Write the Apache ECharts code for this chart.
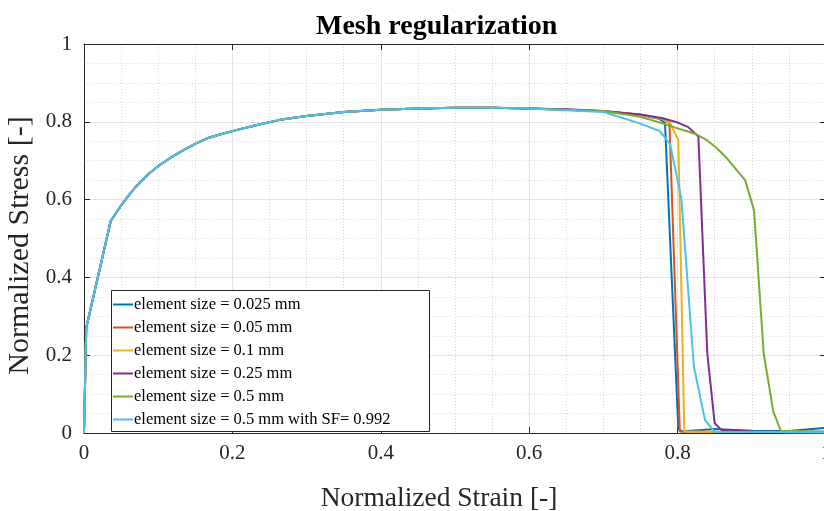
<!DOCTYPE html>
<html>
<head>
<meta charset="utf-8">
<script src="https://cdn.jsdelivr.net/npm/echarts@6/dist/echarts.min.js"></script>
<style>html,body{margin:0;padding:0;background:#fff;}#chart{width:824px;height:511px;}</style>
</head>
<body>
<div id="chart"></div>
<script>
// Shared hardening curve (all mesh sizes coincide here)
var commonStrain = [0, 0.003, 0.036, 0.050, 0.064, 0.073, 0.087, 0.102, 0.118, 0.134, 0.150, 0.165, 0.184, 0.200, 0.233, 0.264, 0.300, 0.350, 0.400, 0.450, 0.500, 0.550, 0.600];
var commonStress = [0, 0.270, 0.545, 0.585, 0.620, 0.640, 0.666, 0.689, 0.709, 0.727, 0.743, 0.757, 0.768, 0.776, 0.792, 0.805, 0.815, 0.825, 0.831, 0.834, 0.836, 0.836, 0.834];

// Softening / failure branches per element size
var strain0025 = [0.650, 0.700, 0.750, 0.775, 0.783, 0.801, 0.806, 0.850, 0.900, 0.950, 1.000];
var stress0025 = [0.831, 0.827, 0.818, 0.808, 0.797, 0.010, 0.004, 0.010, 0.006, 0.005, 0.013];

var strain005 = [0.650, 0.700, 0.750, 0.780, 0.789, 0.803, 0.850, 1.000];
var stress005 = [0.831, 0.827, 0.818, 0.807, 0.797, 0.004, 0.003, 0.002];

var strain01 = [0.650, 0.700, 0.750, 0.780, 0.790, 0.801, 0.809, 0.850, 1.000];
var stress01 = [0.831, 0.827, 0.818, 0.807, 0.797, 0.753, 0.004, 0.003, 0.002];

var strain025 = [0.650, 0.700, 0.750, 0.780, 0.800, 0.814, 0.828, 0.840, 0.850, 0.859, 0.900, 1.000];
var stress025 = [0.832, 0.828, 0.819, 0.809, 0.798, 0.787, 0.762, 0.205, 0.025, 0.008, 0.004, 0.003];

var strain05 = [0.650, 0.700, 0.750, 0.783, 0.800, 0.814, 0.825, 0.840, 0.853, 0.868, 0.879, 0.891, 0.903, 0.916, 0.929, 0.939, 1.000];
var stress05 = [0.831, 0.828, 0.813, 0.794, 0.783, 0.775, 0.768, 0.752, 0.732, 0.703, 0.677, 0.650, 0.573, 0.205, 0.055, 0.006, 0.003];

var strain05SF = [0.650, 0.700, 0.749, 0.776, 0.790, 0.805, 0.822, 0.837, 0.850, 1.000];
var stress05SF = [0.830, 0.825, 0.796, 0.776, 0.742, 0.603, 0.170, 0.033, 0.003, 0.002];

var seriesNames = ['element size = 0.025 mm', 'element size = 0.05 mm', 'element size = 0.1 mm', 'element size = 0.25 mm', 'element size = 0.5 mm', 'element size = 0.5 mm with SF= 0.992'];
var seriesColors = ['#0072BD', '#D95319', '#EDB120', '#7E2F8E', '#77AC30', '#4DBEEE'];
var xTicks = [0, 0.2, 0.4, 0.6, 0.8, 1];
var yTicks = [0, 0.2, 0.4, 0.6, 0.8, 1];

var branches = [[strain0025, stress0025], [strain005, stress005], [strain01, stress01], [strain025, stress025], [strain05, stress05], [strain05SF, stress05SF]];

function buildData(bx, by) {
  var d = [];
  for (var i = 0; i < commonStrain.length; i++) d.push([commonStrain[i], commonStress[i]]);
  for (var j = 0; j < bx.length; j++) d.push([bx[j], by[j]]);
  return d;
}

var FONT = '"Liberation Serif", "Times New Roman", serif';
var AX = '#262626';

var series = branches.map(function (b, k) {
  return {
    name: seriesNames[k],
    type: 'line',
    data: buildData(b[0], b[1]),
    symbol: 'none',
    showSymbol: false,
    smooth: false,
    lineStyle: { color: seriesColors[k], width: 2 },
    itemStyle: { color: seriesColors[k] },
    clip: true,
    animation: false,
    z: 2
  };
});

function fmt(ticks) {
  return function (v) {
    var r = Math.round(v * 10) / 10;
    return ticks.indexOf(r) >= 0 ? String(r) : '';
  };
}

var chart = echarts.init(document.getElementById('chart'), null, { renderer: 'canvas' });
chart.setOption({
  animation: false,
  backgroundColor: '#ffffff',
  title: {
    text: 'Mesh regularization',
    left: 311, top: 8,
    textStyle: { fontFamily: FONT, fontSize: 28, fontWeight: 'bold', color: '#000' }
  },
  grid: { left: 84, top: 44, width: 742, height: 389, containLabel: false, outerBoundsMode: 'none' },
  legend: {
    orient: 'vertical',
    left: 111, top: 296,
    icon: 'rect',
    itemWidth: 20, itemHeight: 2, itemGap: 6,
    padding: [0, 0, 0, 2],
    z: 20,
    textStyle: { fontFamily: FONT, fontSize: 16.5, color: '#000', padding: [0, 0, 0, -4] },
    data: seriesNames,
    selectedMode: false
  },
  graphic: [{
    type: 'rect',
    shape: { x: 111.5, y: 290.5, width: 318, height: 141 },
    style: { fill: '#ffffff', stroke: AX, lineWidth: 1 },
    z: 10
  }],
  xAxis: [{
    type: 'value', min: 0, max: 1, interval: 0.2,
    position: 'bottom',
    name: 'Normalized Strain [-]', nameLocation: 'middle', nameGap: 52,
    nameTextStyle: { fontFamily: FONT, fontSize: 27.5, color: '#262626', padding: [0, 32, 0, 0] },
    axisLine: { show: true, onZero: false, lineStyle: { color: AX, width: 1 } },
    axisTick: { show: true, inside: true, length: 6, lineStyle: { color: AX } },
    axisLabel: { fontFamily: FONT, fontSize: 21, color: '#262626', margin: 10, formatter: fmt(xTicks) },
    splitLine: { show: true, lineStyle: { color: '#e3e3e3', width: 1 } },
    minorTick: { show: false, splitNumber: 4 },
    minorSplitLine: { show: true, lineStyle: { color: '#d9d9d9', type: [1, 2], width: 1 } }
  }, {
    type: 'value', min: 0, max: 1, interval: 0.2,
    position: 'top',
    axisLine: { show: true, onZero: false, lineStyle: { color: AX, width: 1 } },
    axisTick: { show: true, inside: true, length: 6, lineStyle: { color: AX } },
    axisLabel: { show: false },
    splitLine: { show: false }
  }],
  yAxis: [{
    type: 'value', min: 0, max: 1, interval: 0.2,
    position: 'left',
    name: 'Normalized Stress [-]', nameLocation: 'middle', nameGap: 43,
    nameTextStyle: { fontFamily: FONT, fontSize: 30, color: '#262626', padding: [0, 14, 0, 0] },
    axisLine: { show: true, onZero: false, lineStyle: { color: AX, width: 1 } },
    axisTick: { show: true, inside: true, length: 6, lineStyle: { color: AX } },
    axisLabel: { fontFamily: FONT, fontSize: 21, color: '#262626', margin: 12, formatter: fmt(yTicks) },
    splitLine: { show: true, lineStyle: { color: '#e3e3e3', width: 1 } },
    minorTick: { show: false, splitNumber: 4 },
    minorSplitLine: { show: true, lineStyle: { color: '#d9d9d9', type: [1, 2], width: 1 } }
  }, {
    type: 'value', min: 0, max: 1, interval: 0.2,
    position: 'right',
    axisLine: { show: true, onZero: false, lineStyle: { color: AX, width: 1 } },
    axisTick: { show: true, inside: true, length: 6, lineStyle: { color: AX } },
    axisLabel: { show: false },
    splitLine: { show: false }
  }],
  series: series
});
</script>
</body>
</html>
